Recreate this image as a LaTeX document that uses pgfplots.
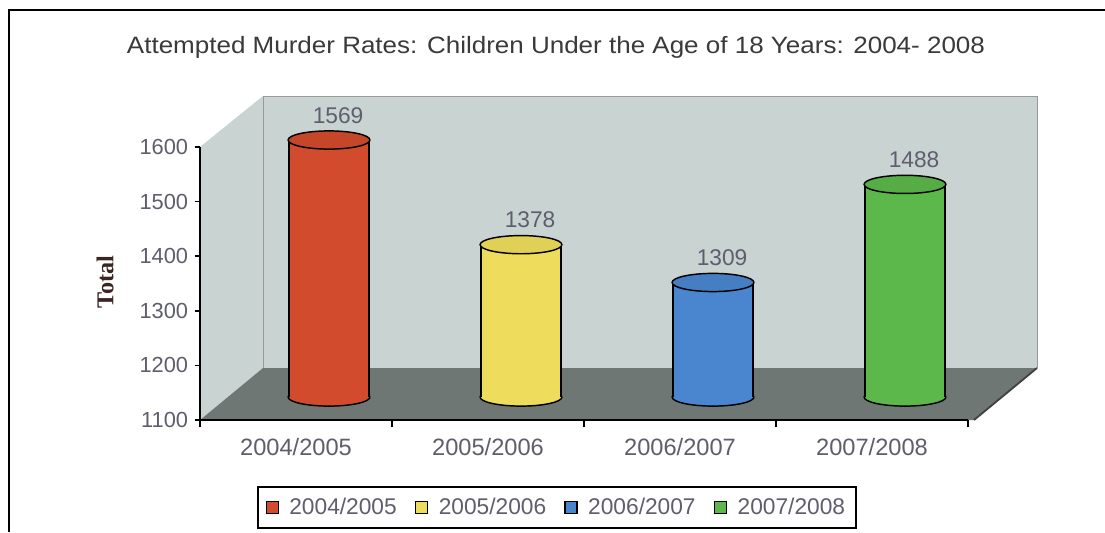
\documentclass[border=0pt]{standalone}
\usepackage{pgfplots}
\pgfplotsset{compat=1.18}
\usepackage{graphicx}
\usepackage{fontspec}
\setmainfont{Liberation Sans}
\newfontfamily\serifb{Liberation Serif}
\definecolor{cRed}{HTML}{D24B2C}
\definecolor{cYel}{HTML}{EEDD5C}
\definecolor{cBlu}{HTML}{4A86D0}
\definecolor{cGre}{HTML}{5CB84A}
\definecolor{wall}{HTML}{C9D3D2}
\definecolor{floorc}{HTML}{6F7775}
\definecolor{tickc}{HTML}{5E5E6E}
\definecolor{titlec}{HTML}{3A3A3A}
\definecolor{ylabc}{HTML}{3A2520}
\newcommand{\cyl}[3]{%
  \addplot[only marks, mark=*, mark size=5pt, mark options={xscale=4.5, fill=#3, draw=black, line width=0.8pt}] coordinates {(#1,1100)};
  \addplot[ybar, bar width=45pt, bar shift=0pt, fill=#3, draw=none] coordinates {(#1,#2)};
  \addplot[ybar, bar width=0.9pt, bar shift=-22.1pt, fill=black, draw=none] coordinates {(#1,#2)};
  \addplot[ybar, bar width=0.9pt, bar shift=22.1pt, fill=black, draw=none] coordinates {(#1,#2)};
  \addplot[only marks, mark=*, mark size=5pt, mark options={xscale=4.5, fill=#3!94!black, draw=black, line width=0.8pt},
    point meta=rawy, nodes near coords={\pgfmathprintnumber{\pgfplotspointmeta}},
    every node near coord/.append style={anchor=center, yshift=13.5pt, xshift=5pt, text=tickc, font=\fontsize{12.5}{14}\selectfont}] coordinates {(#1,#2)};
}
\begin{document}
\begin{tikzpicture}
\begin{scope}[x=0.55pt,y=-0.55pt]
\path[use as bounding box] (0,0) rectangle (1105,532);
\fill[white] (0,0) rectangle (1105,532);
\draw[line width=1.1pt] (9,532)--(9,10)--(1105,10);
\fill[wall] (200,147)--(263,96)--(263,368)--(200,420)--cycle;
\fill[wall] (263,96) rectangle (1037,368);
\draw[gray!80, line width=0.5pt] (263,368)--(263,96)--(1037,96)--(1037,368);
\fill[floorc] (200,420)--(263,368)--(1037,368)--(974,420)--cycle;
\draw[black!75, line width=1pt] (974,420)--(1037,368);
\node[font=\fontsize{13}{15}\selectfont, text=titlec] at (556,47) {\scalebox{1.1}[1]{Attempted Murder Rates: Children Under the Age of 18 Years: 2004- 2008}};
\node[rotate=90, font=\serifb\bfseries\fontsize{13.3}{16}\selectfont, text=ylabc] at (105,282) {Total};
\end{scope}
\begin{axis}[at={(128.15pt,-218.35pt)}, anchor=south west, scale only axis,
  width=422.4pt, height=150.7pt, xmin=0, xmax=4, ymin=0, ymax=500,
  hide axis, clip=false, clip marker paths=true,
  y filter/.code={\pgfmathparse{\pgfmathresult-1100}},
  /pgf/number format/1000 sep={}, /pgf/number format/assume math mode=true]
\cyl{0.5}{1569}{cRed}
\cyl{1.5}{1378}{cYel}
\cyl{2.5}{1309}{cBlu}
\cyl{3.5}{1488}{cGre}
\end{axis}
\begin{axis}[at={(110pt,-231pt)}, anchor=south west, scale only axis,
  width=422.4pt, height=150.15pt, xmin=0, xmax=4, ymin=1100, ymax=1600,
  axis x line*=bottom, axis y line*=left,
  axis line style={black, line width=1.1pt, -},
  ytick={1100,1200,1300,1400,1500,1600},
  xtick={0.5,1.5,2.5,3.5},
  xticklabels={2004/2005,2005/2006,2006/2007,2007/2008},
  minor xtick={0,1,2,3,4},
  major x tick style={draw=none},
  tick style={black, line width=0.9pt},
  tick align=outside, major tick length=3pt, minor tick length=4pt,
  tick label style={font=\fontsize{12}{14}\selectfont, text=tickc},
  xticklabel style={font=\fontsize{13}{15}\selectfont, yshift=-3.5pt},
  /pgf/number format/1000 sep={}, /pgf/number format/assume math mode=true,
  legend columns=4,
  legend image code/.code={\draw[#1, draw=black, line width=0.8pt] (0pt,-3.3pt) rectangle (6.6pt,3.3pt); \path (10.2pt,0pt);},
  legend style={at={(0.465,-0.3205)}, anchor=center, draw=black, line width=1pt,
    font=\fontsize{12.5}{15}\selectfont, text=tickc, inner ysep=4pt, inner xsep=4pt,
    /tikz/every even column/.append style={column sep=8pt}},
]
\addlegendimage{fill=cRed}\addlegendentry{2004/2005}
\addlegendimage{fill=cYel}\addlegendentry{2005/2006}
\addlegendimage{fill=cBlu}\addlegendentry{2006/2007}
\addlegendimage{fill=cGre}\addlegendentry{2007/2008}
\end{axis}
\end{tikzpicture}
\end{document}
